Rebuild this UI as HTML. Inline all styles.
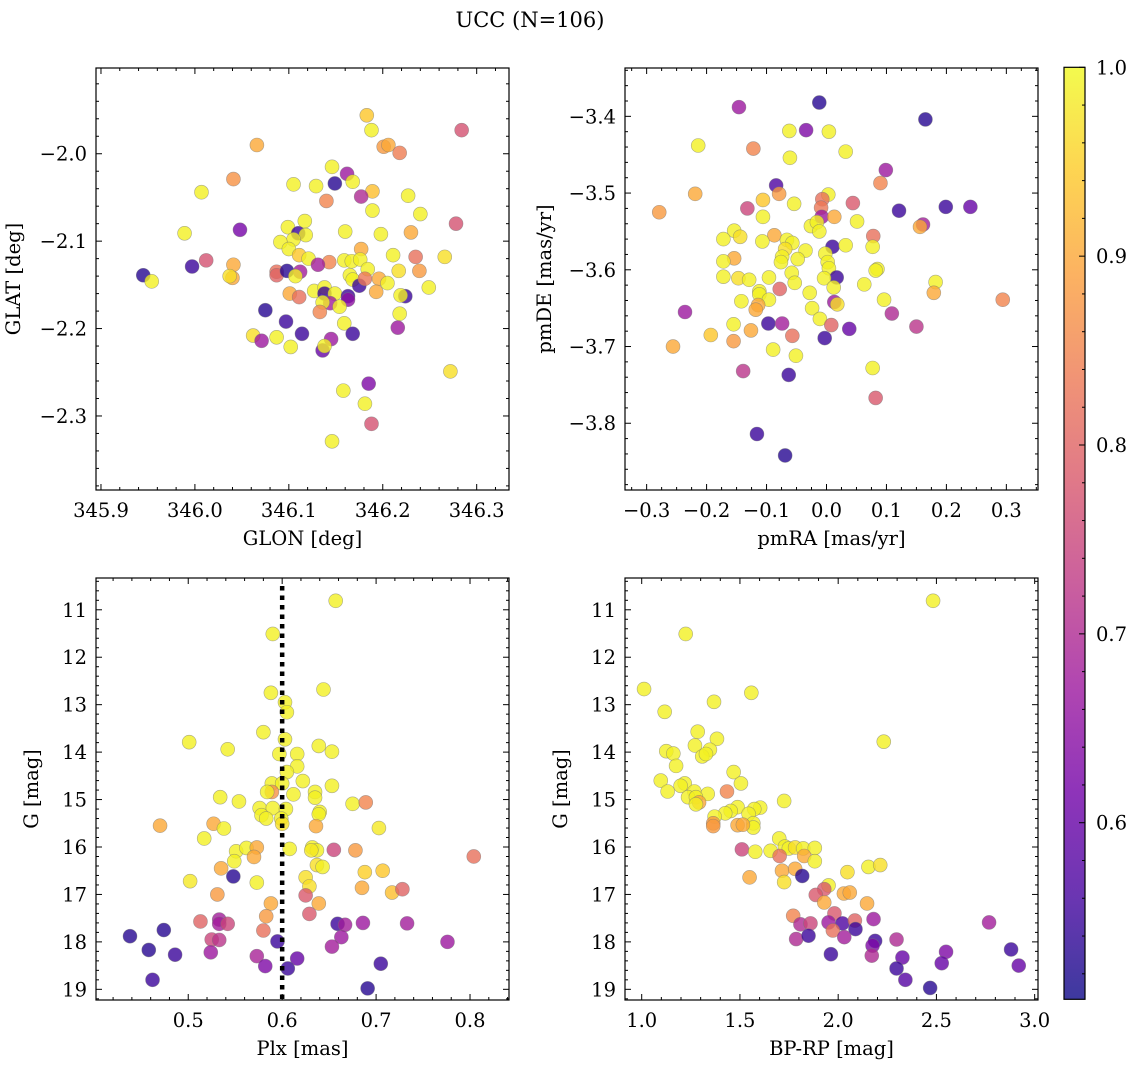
<!DOCTYPE html>
<html><head><meta charset="utf-8"><title>UCC (N=106)</title>
<style>html,body{margin:0;padding:0;background:#fff}svg{display:block;font-family:"DejaVu Serif","Liberation Serif",serif}</style></head>
<body>
<svg id="fig" width="1136" height="1067" viewBox="0 0 1136 1067" xmlns="http://www.w3.org/2000/svg">
<defs>
<linearGradient id="plasmaGrad" x1="0" y1="1" x2="0" y2="0">
<stop offset="0" stop-color="#0d0887"/><stop offset="0.111" stop-color="#46039f"/><stop offset="0.222" stop-color="#7201a8"/><stop offset="0.333" stop-color="#9c179e"/><stop offset="0.444" stop-color="#bd3786"/><stop offset="0.556" stop-color="#d8576b"/><stop offset="0.667" stop-color="#ed7953"/><stop offset="0.778" stop-color="#fb9f3a"/><stop offset="0.889" stop-color="#fdca26"/><stop offset="1" stop-color="#f0f921"/>
</linearGradient>
</defs>
<text x="530" y="27" font-size="21" text-anchor="middle">UCC (N=106)</text>
<g id="panels"></g>
</svg>
<script>
// Panel 1: GLON vs GLAT
const p1Glon=[346.183,346.188,346.284,346.066,346.201,346.206,346.218,346.146,346.162,346.149,346.168,346.041,346.007,346.105,346.129,346.189,346.140,346.177,346.227,346.189,346.240,346.117,346.099,346.048,346.278,346.110,346.118,346.105,346.160,346.198,346.230,345.989,346.091,346.100,346.177,346.111,346.121,346.211,346.235,346.266,346.012,345.997,346.041,346.143,346.159,346.167,346.176,346.131,346.184,346.217,346.239,345.945,345.954,346.087,346.087,346.098,346.112,346.107,346.040,346.037,346.165,346.168,346.175,346.181,346.196,346.205,346.249,346.193,346.101,346.111,346.127,346.138,346.138,346.149,346.224,346.219,346.163,346.163,346.144,346.136,346.154,346.133,346.075,346.218,346.159,346.097,346.216,346.062,346.071,346.087,346.114,346.168,346.145,346.102,346.136,346.138,346.272,346.185,346.158,346.181,346.188,346.146];
const p1Glat=[-1.956,-1.973,-1.973,-1.990,-1.992,-1.990,-1.999,-2.015,-2.023,-2.034,-2.032,-2.029,-2.044,-2.035,-2.037,-2.043,-2.054,-2.049,-2.048,-2.065,-2.069,-2.077,-2.084,-2.087,-2.080,-2.091,-2.093,-2.098,-2.089,-2.092,-2.090,-2.091,-2.101,-2.109,-2.109,-2.116,-2.120,-2.116,-2.118,-2.118,-2.122,-2.129,-2.127,-2.124,-2.122,-2.123,-2.121,-2.127,-2.132,-2.134,-2.134,-2.139,-2.146,-2.135,-2.139,-2.134,-2.135,-2.140,-2.142,-2.140,-2.139,-2.144,-2.151,-2.143,-2.143,-2.148,-2.153,-2.158,-2.160,-2.164,-2.157,-2.153,-2.160,-2.160,-2.163,-2.162,-2.163,-2.167,-2.171,-2.170,-2.175,-2.181,-2.179,-2.183,-2.194,-2.192,-2.199,-2.208,-2.214,-2.210,-2.206,-2.206,-2.212,-2.221,-2.225,-2.220,-2.249,-2.263,-2.271,-2.286,-2.309,-2.329];
const p1Prob=[.94,.99,.77,.9,.88,.9,.84,.99,.67,.53,.99,.87,.99,.99,.99,.93,.85,.7,.99,.99,.99,.99,.99,.62,.77,.55,.99,.99,.99,.99,.9,.99,.99,.99,.9,.94,.99,.99,.82,.97,.77,.55,.9,.85,.99,.99,.99,.68,.99,.97,.88,.53,.99,.82,.8,.53,.68,.99,.9,.97,.99,.99,.55,.83,.9,.99,.99,.9,.9,.82,.99,.99,.55,.99,.55,.99,.55,.65,.68,.99,.99,.85,.53,.99,.99,.55,.67,.97,.67,.99,.55,.55,.67,.99,.6,.99,.97,.63,.99,.99,.77,.99];
// Panel 2: pmRA vs pmDE
const p2PmRA=[-0.146,-0.012,0.165,-0.062,-0.034,0.004,-0.214,-0.122,0.032,-0.061,0.099,0.090,-0.084,-0.219,-0.079,0.003,-0.106,-0.007,0.044,-0.054,-0.009,-0.132,-0.279,0.121,0.199,0.240,-0.008,0.013,-0.106,-0.026,-0.016,0.051,0.161,0.156,-0.012,-0.154,-0.144,-0.087,0.078,-0.172,-0.107,-0.066,-0.057,-0.069,0.010,0.032,0.077,-0.035,-0.002,-0.074,-0.154,-0.048,-0.172,-0.076,0.002,0.004,0.085,0.082,-0.058,-0.172,-0.147,-0.096,-0.129,0.017,-0.004,-0.053,0.063,0.182,0.012,-0.078,-0.112,-0.028,0.179,-0.112,0.294,-0.142,-0.096,0.096,0.013,0.018,-0.114,-0.118,-0.024,-0.236,0.109,-0.011,-0.097,-0.074,-0.155,0.008,0.038,0.150,-0.126,-0.193,-0.057,-0.003,-0.155,-0.256,-0.089,-0.051,0.077,-0.139,-0.063,0.082,-0.116,-0.069];
const p2PmDE=[-3.388,-3.382,-3.404,-3.419,-3.418,-3.420,-3.438,-3.442,-3.446,-3.454,-3.470,-3.487,-3.490,-3.501,-3.501,-3.502,-3.509,-3.508,-3.513,-3.514,-3.519,-3.520,-3.525,-3.523,-3.518,-3.518,-3.531,-3.531,-3.531,-3.543,-3.538,-3.537,-3.541,-3.544,-3.550,-3.549,-3.557,-3.555,-3.556,-3.560,-3.563,-3.561,-3.565,-3.573,-3.570,-3.568,-3.570,-3.575,-3.579,-3.583,-3.585,-3.586,-3.589,-3.590,-3.590,-3.598,-3.599,-3.601,-3.604,-3.609,-3.611,-3.610,-3.613,-3.610,-3.611,-3.617,-3.619,-3.616,-3.623,-3.625,-3.628,-3.630,-3.630,-3.632,-3.639,-3.641,-3.639,-3.639,-3.642,-3.645,-3.646,-3.652,-3.650,-3.655,-3.657,-3.664,-3.670,-3.670,-3.671,-3.672,-3.677,-3.674,-3.679,-3.685,-3.686,-3.689,-3.693,-3.700,-3.704,-3.712,-3.728,-3.732,-3.737,-3.767,-3.814,-3.842];
const p2Prob=[.67,.53,.53,.99,.63,.99,.99,.85,.99,.99,.67,.85,.57,.9,.88,.99,.94,.82,.78,.99,.83,.75,.88,.55,.55,.6,.67,.9,.99,.99,.99,.99,.68,.9,.99,.99,.97,.9,.82,.99,.99,.99,.99,.97,.55,.99,.99,.99,.99,.99,.9,.99,.99,.99,.99,.99,.99,.99,.99,.99,.97,.99,.99,.55,.99,.99,.99,.99,.99,.8,.99,.99,.9,.99,.85,.99,.99,.99,.67,.97,.9,.9,.99,.67,.7,.99,.55,.68,.99,.8,.6,.72,.9,.94,.82,.55,.88,.9,.99,.99,.99,.72,.55,.78,.55,.53];
// Panel 3: Plx vs G
const p3Plx=[.657,.590,.588,.644,.603,.605,.580,.603,.501,.542,.639,.653,.597,.616,.616,.605,.589,.600,.622,.653,.589,.584,.635,.612,.635,.534,.554,.675,.689,.576,.590,.604,.640,.639,.578,.583,.599,.600,.470,.527,.538,.636,.703,.517,.551,.562,.573,.570,.608,.632,.637,.631,.655,.678,.804,.549,.535,.637,.643,.548,.688,.707,.502,.573,.625,.629,.685,.717,.728,.531,.625,.588,.639,.583,.629,.513,.533,.533,.542,.474,.580,.659,.667,.686,.733,.438,.525,.533,.595,.663,.776,.653,.458,.486,.524,.573,.616,.582,.606,.705,.462,.691];
const p3G=[10.81,11.51,12.75,12.68,12.95,13.16,13.58,13.73,13.79,13.94,13.87,13.99,14.04,14.04,14.30,14.42,14.66,14.66,14.61,14.71,14.84,14.84,14.84,14.89,14.96,14.95,15.04,15.09,15.06,15.18,15.18,15.20,15.26,15.31,15.33,15.40,15.40,15.51,15.55,15.51,15.61,15.56,15.60,15.82,16.09,16.02,16.01,16.21,16.04,16.01,16.07,16.07,16.06,16.07,16.20,16.30,16.45,16.38,16.42,16.62,16.53,16.50,16.72,16.75,16.64,16.83,16.86,16.96,16.89,17.00,17.02,17.19,17.19,17.46,17.41,17.57,17.53,17.62,17.62,17.75,17.76,17.62,17.64,17.60,17.61,17.88,17.95,17.96,17.99,17.90,18.00,18.10,18.17,18.27,18.22,18.30,18.35,18.51,18.56,18.46,18.80,18.98];
const p3Prob=[.99,.99,.99,.99,.99,.99,.99,.99,.99,.99,.99,.99,.99,.99,.99,.99,.99,.99,.99,.99,.87,.99,.99,.99,.99,.99,.99,.99,.85,.99,.99,.99,.99,.99,.99,.99,.99,.97,.9,.9,.99,.9,.98,.99,.99,.99,.9,.9,.99,.99,.99,.98,.75,.88,.82,.99,.9,.97,.99,.53,.95,.94,.98,.99,.97,.97,.9,.93,.8,.88,.78,.9,.9,.88,.78,.8,.68,.68,.75,.53,.82,.55,.68,.67,.68,.53,.75,.72,.55,.67,.67,.68,.53,.55,.67,.69,.6,.63,.55,.55,.55,.53];
const p3Line=[0.6];
// Panel 4: BP-RP vs G
const p4BpRp=[2.483,1.224,1.012,1.558,1.368,1.117,1.285,1.383,2.232,1.125,1.161,1.271,1.347,1.308,1.327,1.175,1.468,1.505,1.097,1.219,1.198,1.132,1.434,1.268,1.336,1.236,1.276,1.292,1.276,1.725,1.488,1.603,1.573,1.453,1.425,1.544,1.371,1.568,1.568,1.364,1.364,1.488,1.515,1.700,1.510,1.578,1.656,1.729,1.749,1.781,1.822,1.881,1.702,1.827,1.881,2.154,2.214,1.714,1.781,2.047,1.549,1.817,1.725,1.951,1.929,1.886,2.029,2.059,1.929,2.147,1.771,1.981,1.808,1.859,1.951,2.022,2.085,2.180,1.973,2.088,2.768,1.786,1.849,2.031,2.188,2.175,2.297,1.963,2.171,2.549,2.327,2.880,2.527,2.919,2.297,2.342,2.468];
const p4G=[10.81,11.51,12.67,12.75,12.94,13.15,13.57,13.72,13.78,13.98,14.03,13.86,13.95,14.09,14.04,14.29,14.42,14.66,14.60,14.66,14.71,14.83,14.83,14.83,14.88,14.95,14.95,15.06,15.10,15.03,15.16,15.17,15.20,15.24,15.29,15.30,15.36,15.50,15.59,15.50,15.56,15.54,15.53,15.82,16.05,16.10,16.08,15.99,16.03,16.01,16.03,16.02,16.19,16.19,16.30,16.42,16.38,16.50,16.46,16.53,16.64,16.61,16.74,16.81,16.89,17.01,16.98,16.96,17.17,17.19,17.45,17.40,17.63,17.61,17.59,17.61,17.55,17.52,17.76,17.73,17.59,17.94,17.87,17.90,17.98,18.08,17.95,18.26,18.29,18.21,18.33,18.16,18.45,18.50,18.56,18.80,18.97];
const p4Prob=[.99,.99,.99,.99,.99,.99,.99,.99,.99,.99,.99,.99,.99,.99,.99,.99,.99,.99,.99,.99,.99,.99,.85,.99,.99,.99,.99,.9,.99,.99,.99,.99,.99,.99,.99,.99,.99,.99,.99,.88,.88,.9,.9,.99,.75,.99,.99,.99,.99,.97,.99,.99,.82,.9,.99,.99,.97,.9,.9,.97,.9,.53,.97,.99,.78,.78,.9,.9,.9,.9,.85,.78,.7,.75,.67,.57,.8,.67,.82,.55,.68,.7,.55,.68,.55,.63,.7,.55,.7,.63,.6,.55,.6,.6,.55,.58,.53];
// Tick labels
const p1XTicks=[345.9,346.0,346.1,346.2,346.3];
const p1YTicks=[-2.0,-2.1,-2.2,-2.3];
const p2XTicks=[-0.3,-0.2,-0.1,0.0,0.1,0.2,0.3];
const p2YTicks=[-3.4,-3.5,-3.6,-3.7,-3.8];
const p3XTicks=[0.5,0.6,0.7,0.8];
const gTicks=[11,12,13,14,15,16,17,18,19];
const p4XTicks=[1.0,1.5,2.0,2.5,3.0];
const cbTicks=[0.6,0.7,0.8,0.9,1.0];

const NS='http://www.w3.org/2000/svg';
const root=document.getElementById('panels');
function mk(tag,attrs,parent){const e=document.createElementNS(NS,tag);for(const k in attrs)e.setAttribute(k,attrs[k]);(parent||root).appendChild(e);return e;}
const stops=[[13,8,135],[70,3,159],[114,1,168],[156,23,158],[189,55,134],[216,87,107],[237,121,83],[251,159,58],[253,202,38],[240,249,33]];
const VMIN=0.5065,VMAX=1.0;
function plasma(v){let t=(v-VMIN)/(VMAX-VMIN);t=Math.max(0,Math.min(1,t));const f=t*9,i=Math.min(8,Math.floor(f)),r=f-i;const a=stops[i],b=stops[i+1];return 'rgb('+a.map((c,k)=>Math.round(c+(b[k]-c)*r)).join(',')+')';}
function fmt(v,d){const s=Math.abs(v).toFixed(d);return (v<-1e-9?'\u2212':'')+s;}
const FS=19.5;

function panel(o){
  const g=mk('g',{});
  
  
  const sx=v=>o.x0+(v-o.xmin)/(o.xmax-o.xmin)*(o.x1-o.x0);
  const sy=o.invert?(v=>o.y0+(v-o.ymin)/(o.ymax-o.ymin)*(o.y1-o.y0)):(v=>o.y1-(v-o.ymin)/(o.ymax-o.ymin)*(o.y1-o.y0));
  const tg=mk('g',{stroke:'#000','stroke-width':1},g);
  
  
  const xs=o.xMajor/o.xSub;
  for(let v=Math.ceil(o.xmin/xs-1e-6)*xs;v<=o.xmax+1e-9;v+=xs){const px=sx(v);const maj=Math.abs(v/o.xMajor-Math.round(v/o.xMajor))<1e-4;const L=maj?6:3;
    mk('line',{x1:px,x2:px,y1:o.y1,y2:o.y1-L},tg);mk('line',{x1:px,x2:px,y1:o.y0,y2:o.y0+L},tg);}
  const ys=o.yMajor/o.ySub;
  for(let v=Math.ceil(o.ymin/ys-1e-6)*ys;v<=o.ymax+1e-9;v+=ys){const py=sy(v);const maj=Math.abs(v/o.yMajor-Math.round(v/o.yMajor))<1e-4;const L=maj?6:3;
    mk('line',{y1:py,y2:py,x1:o.x0,x2:o.x0+L},tg);mk('line',{y1:py,y2:py,x1:o.x1,x2:o.x1-L},tg);}
  o.xTicks.forEach(v=>{const t=mk('text',{x:sx(v),y:o.y1+27,'font-size':FS,'text-anchor':'middle'},g);t.textContent=fmt(v,o.xd);
    
    });
  o.yTicks.forEach(v=>{const t=mk('text',{x:o.x0-9,y:sy(v)+7,'font-size':FS,'text-anchor':'end'},g);t.textContent=fmt(v,o.yd);
    
    });
  const xl=mk('text',{x:(o.x0+o.x1)/2,y:o.y1+55,'font-size':FS,'text-anchor':'middle'},g);xl.textContent=o.xlabel;
  
  
  const yx=o.x0-o.ylOff,ym=(o.y0+o.y1)/2;
  const yl=mk('text',{x:yx,y:ym,'font-size':FS,'text-anchor':'middle',transform:'rotate(-90 '+yx+' '+ym+')'},g);yl.textContent=o.ylabel;
  
  
  const pg=mk('g',{},g);
  
  
  o.xs.forEach((xv,i)=>{const c=mk('circle',{cx:sx(xv),cy:sy(o.ys[i]),r:7,fill:plasma(o.ps[i]),'fill-opacity':0.8,stroke:'#777','stroke-opacity':0.6,'stroke-width':0.6},pg);
    
    });
  if(o.vline){o.vline.forEach(v=>{const l=mk('line',{x1:sx(v),x2:sx(v),y1:o.y0+8,y2:o.y1,stroke:'#000','stroke-width':4.5,'stroke-dasharray':'4.5 5'},g);
    
    });}
  const fr=mk('rect',{x:o.x0,y:o.y0,width:o.x1-o.x0,height:o.y1-o.y0,fill:'none',stroke:'#000','stroke-width':1.2},g);
  
  
}

panel({name:'glon-glat-panel',x0:96,x1:509,y0:68,y1:490,xmin:345.8947,xmax:346.3344,ymin:-2.3847,ymax:-1.9019,xMajor:0.1,xSub:5,yMajor:0.1,ySub:5,xTicks:p1XTicks,yTicks:p1YTicks,xd:1,yd:1,xlabel:'GLON [deg]',ylabel:'GLAT [deg]',ylOff:76,xs:p1Glon,ys:p1Glat,ps:p1Prob});
panel({name:'pm-panel',x0:625,x1:1038,y0:68,y1:490,xmin:-0.3361,xmax:0.3528,ymin:-3.887,ymax:-3.337,xMajor:0.1,xSub:4,yMajor:0.1,ySub:5,xTicks:p2XTicks,yTicks:p2YTicks,xd:1,yd:1,xlabel:'pmRA [mas/yr]',ylabel:'pmDE [mas/yr]',ylOff:74,xs:p2PmRA,ys:p2PmDE,ps:p2Prob});
panel({name:'plx-g-panel',x0:96,x1:509,y0:578,y1:1000,xmin:0.4018,xmax:0.8415,ymin:10.33,ymax:19.225,invert:true,xMajor:0.1,xSub:5,yMajor:1,ySub:5,xTicks:p3XTicks,yTicks:gTicks,xd:1,yd:0,xlabel:'Plx [mas]',ylabel:'G [mag]',ylOff:58,xs:p3Plx,ys:p3G,ps:p3Prob,vline:p3Line});
panel({name:'cmd-panel',x0:625,x1:1038,y0:578,y1:1000,xmin:0.915,xmax:3.017,ymin:10.33,ymax:19.225,invert:true,xMajor:0.5,xSub:5,yMajor:1,ySub:5,xTicks:p4XTicks,yTicks:gTicks,xd:1,yd:0,xlabel:'BP-RP [mag]',ylabel:'G [mag]',ylOff:58,xs:p4BpRp,ys:p4G,ps:p4Prob});

// Colorbar
const cb=mk('g',{});


const cy0=67.3,cy1=999.3,cx0=1064,cx1=1085;
const cby=v=>cy1-(v-VMIN)/(VMAX-VMIN)*(cy1-cy0);
mk('rect',{x:cx0,y:cy0,width:cx1-cx0,height:cy1-cy0,fill:'url(#plasmaGrad)','fill-opacity':0.8},cb);
for(let v=0.52;v<=1.0001;v+=0.02){const py=cby(v);const maj=Math.abs(v*10-Math.round(v*10))<1e-4;mk('line',{x1:cx1,x2:cx1-(maj?6:3),y1:py,y2:py,stroke:'#000','stroke-width':1},cb);}
cbTicks.forEach(v=>{const t=mk('text',{x:1096,y:cby(v)+7,'font-size':FS},cb);t.textContent=v.toFixed(1);
  
  });
mk('rect',{x:cx0,y:cy0,width:cx1-cx0,height:cy1-cy0,fill:'none',stroke:'#000','stroke-width':1.2},cb);
</script>
</body></html>
